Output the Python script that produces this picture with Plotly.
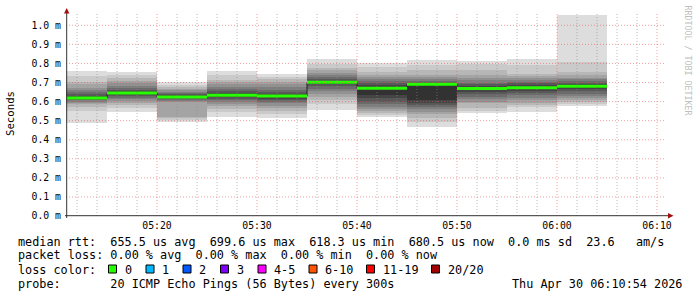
import plotly.graph_objects as go
import pandas as pd

# ---------------- data ----------------
DATE = "2026-04-30"
bar_start = ["05:10", "05:15", "05:20", "05:25", "05:30", "05:35",
             "05:40", "05:45", "05:50", "05:55", "06:00"]
# median rtt per 5-minute step (ms)
median_ms = [0.619, 0.645, 0.624, 0.633, 0.629, 0.701,
             0.670, 0.691, 0.668, 0.672, 0.6805]
# 20 sorted ping rtts per step (ms)
pings_0510 = [0.488, 0.551, 0.572, 0.585, 0.592, 0.600, 0.606, 0.610, 0.614, 0.617,
              0.621, 0.628, 0.638, 0.650, 0.660, 0.672, 0.690, 0.705, 0.735, 0.759]
pings_0515 = [0.545, 0.566, 0.580, 0.592, 0.602, 0.612, 0.620, 0.628, 0.634, 0.641,
              0.649, 0.655, 0.662, 0.672, 0.684, 0.698, 0.710, 0.722, 0.737, 0.755]
pings_0520 = [0.493, 0.505, 0.512, 0.518, 0.598, 0.604, 0.610, 0.614, 0.618, 0.621,
              0.627, 0.632, 0.638, 0.645, 0.652, 0.660, 0.668, 0.676, 0.685, 0.705]
pings_0525 = [0.519, 0.545, 0.560, 0.575, 0.588, 0.598, 0.607, 0.615, 0.622, 0.628,
              0.638, 0.646, 0.655, 0.665, 0.678, 0.690, 0.702, 0.715, 0.738, 0.759]
pings_0530 = [0.514, 0.537, 0.553, 0.566, 0.578, 0.590, 0.600, 0.608, 0.616, 0.624,
              0.634, 0.642, 0.652, 0.663, 0.676, 0.690, 0.703, 0.716, 0.729, 0.747]
pings_0535 = [0.556, 0.589, 0.607, 0.624, 0.640, 0.655, 0.668, 0.680, 0.690, 0.697,
              0.704, 0.710, 0.718, 0.728, 0.738, 0.752, 0.765, 0.778, 0.799, 0.821]
pings_0540 = [0.519, 0.528, 0.540, 0.552, 0.563, 0.573, 0.585, 0.600, 0.618, 0.633,
              0.676, 0.685, 0.695, 0.708, 0.720, 0.729, 0.742, 0.757, 0.781, 0.802]
pings_0545 = [0.467, 0.493, 0.515, 0.535, 0.548, 0.560, 0.572, 0.582, 0.595, 0.607,
              0.687, 0.695, 0.702, 0.710, 0.718, 0.728, 0.740, 0.764, 0.794, 0.816]
pings_0550 = [0.540, 0.552, 0.565, 0.590, 0.600, 0.615, 0.625, 0.640, 0.652, 0.662,
              0.672, 0.680, 0.690, 0.700, 0.712, 0.725, 0.738, 0.764, 0.799, 0.814]
pings_0555 = [0.545, 0.570, 0.582, 0.595, 0.607, 0.618, 0.633, 0.645, 0.655, 0.666,
              0.676, 0.685, 0.695, 0.705, 0.715, 0.725, 0.736, 0.747, 0.790, 0.825]
pings_0600 = [0.575, 0.589, 0.600, 0.610, 0.620, 0.630, 0.642, 0.655, 0.665, 0.675,
              0.685, 0.692, 0.700, 0.708, 0.716, 0.726, 0.740, 0.755, 0.808, 1.052]
pings = [pings_0510, pings_0515, pings_0520, pings_0525, pings_0530, pings_0535,
         pings_0540, pings_0545, pings_0550, pings_0555, pings_0600]

y_ticks = [0.0, 0.1, 0.2, 0.3, 0.4, 0.5, 0.6, 0.7, 0.8, 0.9, 1.0]
y_tick_labels = ["0.0 m", "0.1 m", "0.2 m", "0.3 m", "0.4 m", "0.5 m",
                 "0.6 m", "0.7 m", "0.8 m", "0.9 m", "1.0 m"]
x_tick_labels = ["05:20", "05:30", "05:40", "05:50", "06:00", "06:10"]
graph_end = "06:10:54"

rtt_line = "median rtt:  655.5 us avg  699.6 us max  618.3 us min  680.5 us now  0.0 ms sd  23.6   am/s"
loss_line = "packet loss: 0.00 % avg  0.00 % max  0.00 % min  0.00 % now"
probe_line = "probe:       20 ICMP Echo Pings (56 Bytes) every 300s"
stamp_text = "Thu Apr 30 06:10:54 2026"
loss_labels = ["0", "1", "2", "3", "4-5", "6-10", "11-19", "20/20"]
loss_colors = ["#26ff00", "#00b8ff", "#0059ff", "#7e00ff", "#ff00ff", "#ff5500", "#ff0000", "#a10000"]

# ---------------- geometry helpers ----------------
W, H = 697, 297
ML, MR, MT, MB = 66, 31, 13, 81
PW, PH = W - ML - MR, H - MT - MB


def px(x):
    return (x - ML) / PW


def py(y):
    return (H - MB - y) / PH


MONO = "DejaVu Sans Mono"
starts = pd.to_datetime([f"{DATE} {t}" for t in bar_start])
step = pd.Timedelta(minutes=5)
t_end = pd.Timestamp(f"{DATE} {graph_end}")
t_begin = t_end - pd.Timedelta(hours=1)
y_top = 1.0645

fig = go.Figure()

# smoke
half = 10
for i in range(half):
    c = int(190 / half * (half - (i + 1))) + 50
    lo = [p[i] for p in pings]
    hi = [p[19 - i] for p in pings]
    fig.add_trace(go.Bar(
        x=starts, y=[h - l for h, l in zip(hi, lo)], base=lo,
        width=300000, offset=0,
        marker=dict(color=f"rgb({c},{c},{c})", line=dict(width=0)),
        hoverinfo="skip", showlegend=False))

# median step line
fig.add_trace(go.Scatter(
    x=list(starts) + [starts[-1] + step], y=median_ms + [median_ms[-1]],
    mode="lines", line=dict(color="#202020", width=1, shape="hv"),
    hoverinfo="skip", showlegend=False))

# loss-coloured median
gx, gy = [], []
for s, m in zip(starts, median_ms):
    gx += [s, s + step, None]
    gy += [m, m, None]
fig.add_trace(go.Scatter(
    x=gx, y=gy, mode="lines", line=dict(color=loss_colors[0], width=3),
    hoverinfo="skip", showlegend=False))

shapes = []
# grid above traces
pink = "rgba(235,80,80,0.55)"
grey = "rgba(140,140,140,0.6)"
for v in y_ticks[1:]:
    shapes.append(dict(type="line", xref="paper", yref="y", x0=0, x1=1, y0=v, y1=v,
                       line=dict(color=pink, width=1, dash="1px,2px"), layer="above"))
t = pd.Timestamp(f"{DATE} 05:12")
while t <= t_end:
    major = (t.minute % 10 == 0)
    shapes.append(dict(type="line", xref="x", yref="paper", x0=t, x1=t, y0=0, y1=1,
                       line=dict(color=pink if major else grey, width=1, dash="1px,2px"),
                       layer="above"))
    t += pd.Timedelta(minutes=2)

# axes with arrows
axis_c = "#333333"
arrow_c = "#a01010"
shapes.append(dict(type="line", xref="paper", yref="paper", x0=px(65), x1=px(669),
                   y0=py(215.7), y1=py(215.7), line=dict(color=axis_c, width=1), layer="above"))
shapes.append(dict(type="line", xref="paper", yref="paper", x0=px(66.7), x1=px(66.7),
                   y0=py(218), y1=py(11), line=dict(color=axis_c, width=1), layer="above"))
shapes.append(dict(type="path", xref="paper", yref="paper",
                   path=f"M {px(668)},{py(213)} L {px(673.5)},{py(215.7)} L {px(668)},{py(218.4)} Z",
                   fillcolor=arrow_c, line=dict(width=0), layer="above"))
shapes.append(dict(type="path", xref="paper", yref="paper",
                   path=f"M {px(64)},{py(13.5)} L {px(66.7)},{py(8)} L {px(69.4)},{py(13.5)} Z",
                   fillcolor=arrow_c, line=dict(width=0), layer="above"))

annotations = []


def txt(x, y, s, size=11.8, anchor="left", color="#000000", angle=0, yanchor="middle"):
    annotations.append(dict(x=px(x), y=py(y), xref="paper", yref="paper", text=s,
                            showarrow=False, xanchor=anchor, yanchor=yanchor,
                            textangle=angle, font=dict(family=MONO, size=size, color=color)))


txt(11, 114, "Seconds", size=10.7, anchor="center", angle=-90)
txt(687.5, 60, "RRDTOOL / TOBI OETIKER", size=8.3, anchor="center", angle=90, color="#c0c0c0")

ADV = 7.11
txt(16.5 - 1, 241.5, rtt_line.replace(" ", "&nbsp;"))
txt(16.5 - 1, 255.5, loss_line.replace(" ", "&nbsp;"))
txt(16.5 - 1, 269.5, "loss color:")
txt(16.5 - 1, 283.5, probe_line.replace(" ", "&nbsp;"))
txt(684, 283.5, stamp_text.replace(" ", "&nbsp;"), anchor="right")

box_x = [108.5, 146, 183, 220.5, 258, 309, 366.5, 431.5]
for bx, lab, col in zip(box_x, loss_labels, loss_colors):
    shapes.append(dict(type="rect", xref="paper", yref="paper",
                       x0=px(bx), x1=px(bx + 8), y0=py(273), y1=py(265),
                       fillcolor=col, line=dict(color="#000000", width=1)))
    txt(bx + 15.2 - 1, 269.5, lab)

fig.update_layout(
    width=W, height=H, margin=dict(l=ML, r=MR, t=MT, b=MB, pad=0),
    paper_bgcolor="#ffffff", plot_bgcolor="#ffffff",
    barmode="overlay", bargap=0, showlegend=False,
    shapes=shapes, annotations=annotations,
    xaxis=dict(type="date", range=[t_begin, t_end],
               tickvals=pd.to_datetime([f"{DATE} {t}" for t in x_tick_labels]),
               ticktext=x_tick_labels, showgrid=False, zeroline=False, showline=False,
               ticks="", ticklabelstandoff=2,
               tickfont=dict(family=MONO, size=9.8, color="#000000")),
    yaxis=dict(range=[0, y_top], tickvals=y_ticks, ticktext=y_tick_labels,
               showgrid=False, zeroline=False, showline=False, ticks="",
               ticklabelstandoff=4,
               tickfont=dict(family=MONO, size=9.8, color="#000000")),
)

fig.write_html("out.html")
